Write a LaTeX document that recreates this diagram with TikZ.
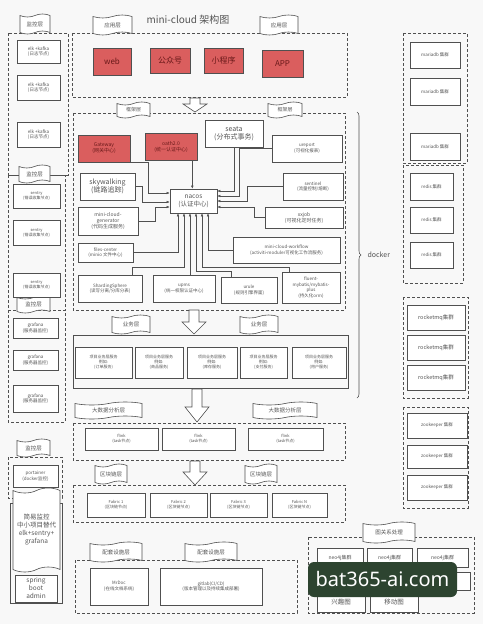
\documentclass[tikz,border=0pt]{standalone}
\usepackage{fontspec}
\setmainfont{Noto Sans CJK SC}
\newfontfamily\wmfont{Noto Sans}
\usetikzlibrary{shapes.symbols,arrows.meta,calc,decorations.pathreplacing}
\definecolor{linec}{RGB}{80,80,80}
\definecolor{textc}{RGB}{85,85,85}
\definecolor{redc}{RGB}{218,94,94}
\definecolor{redtext}{RGB}{105,25,25}
\definecolor{bgc}{RGB}{248,248,248}
\definecolor{wmc}{RGB}{45,68,48}
\tikzset{
 box/.style={draw=linec,line width=0.6pt,fill=white,inner sep=0pt,align=center,text=textc,font=\fontsize{4.5}{5.5}\selectfont},
 redbox/.style={fill=redc,text=redtext,font=\fontsize{8}{9}\selectfont},
 flag/.style={tape,draw=linec,fill=white,line width=0.6pt,tape bend top=in and out,tape bend bottom=in and out,tape bend height=3pt,inner sep=0pt,align=center,text=textc,font=\fontsize{5.5}{6.5}\selectfont},
 dbox/.style={draw=linec,line width=0.8pt,dash pattern=on 3pt off 2pt},
 sbox/.style={draw=linec,line width=0.6pt},
 conn/.style={draw=linec,line width=0.5pt,-{Latex[length=3pt,width=2.6pt]}},
 fa/.style={font=\fontsize{4}{5}\selectfont},
 fb/.style={font=\fontsize{4.5}{5.5}\selectfont},
 fc/.style={font=\fontsize{5}{6}\selectfont},
 fd/.style={font=\fontsize{5.5}{6.5}\selectfont},
 fe/.style={font=\fontsize{6.5}{8}\selectfont},
 ff/.style={font=\fontsize{7}{8.5}\selectfont},
 fg/.style={font=\fontsize{8}{9}\selectfont},
 barrow/.style={draw=linec,fill=white,line width=0.6pt},
}
\newcommand\mybox[7][]{\node[box,#1,minimum width={(#5)-(#3)},minimum height={(#6)-(#4)}] (#2) at ({((#3)+(#5))/2},{((#4)+(#6))/2}) {#7};}
\newcommand\myflag[7][]{\node[flag,#1,minimum width={(#5)-(#3)},minimum height={(#6)-(#4)}] (#2) at ({((#3)+(#5))/2},{((#4)+(#6))/2}) {#7};}
\newcommand\blockarr[4]{\draw[barrow] (#1-5,#2) -- (#1+5,#2) -- (#1+5,#3) -- (#1+12,#3) -- (#1,#4) -- (#1-12,#3) -- (#1-5,#3) -- cycle;}
\begin{document}
\begin{tikzpicture}[x=1pt,y=-1pt]
\useasboundingbox (0,0) rectangle (483,624);
\fill[bgc] (0,0) rectangle (483,624);

% ---------- left column ----------
\draw[dbox] (8,33) rectangle (68,175);
\draw[dbox] (8,175) rectangle (65,310);
\draw[dbox] (8,310) rectangle (65,422);
\draw[dbox] (8,457) rectangle (62,498);
\myflag{mon1}{20}{14}{50}{34}{监控层}
\myflag{mon2}{19}{165}{50}{183}{监控层}
\myflag{mon3}{17}{296}{50}{313}{监控层}
\myflag{mon4}{17}{439}{50}{457}{监控层}
\mybox[fb]{elk1}{17}{40}{60}{63}{elk +kafka\\(日志节点)}
\mybox[fb]{elk2}{17}{75}{60}{100}{elk +kafka\\(日志节点)}
\mybox[fb]{elk3}{17}{122}{60}{147}{elk +kafka\\(日志节点)}
\mybox[fa]{sen1}{13}{184}{60}{208}{sentry\\(错误收集节点)}
\mybox[fa]{sen2}{13}{220}{60}{245}{sentry\\(错误收集节点)}
\mybox[fa]{sen3}{13}{273}{60}{297}{sentry\\(错误收集节点)}
\mybox[fb]{gra1}{13}{318}{58}{338}{grafana\\(服务器监控)}
\mybox[fb]{gra2}{13}{350}{58}{370}{grafana\\(服务器监控)}
\mybox[fb]{gra3}{13}{385}{58}{412}{grafana\\(服务器监控)}
\mybox[fb]{port}{13}{465}{58}{487}{portainer\\(docker监控)}
\draw[sbox] (10,503) rectangle (62,603);
\myflag[fe,tape bend height=5pt]{simple}{13}{488}{60}{572}{简易监控\\中小项目替代\\elk+sentry+\\grafana}
\mybox[fe]{spring}{15}{575}{57}{602}{spring\\boot\\admin}

% ---------- application layer ----------
\node[text=textc,font=\fontsize{10}{12}\selectfont] (title) at (188,20) {mini-cloud 架构图};
\draw[dbox] (72,33) rectangle (347,97);
\myflag{app1}{93}{15}{132}{35}{应用层}
\myflag{app2}{260}{15}{298}{35}{应用层}
\mybox[redbox]{web}{93}{48}{131}{75}{web}
\mybox[redbox]{gzh}{150}{48}{190}{73}{公众号}
\mybox[redbox]{xcx}{204}{48}{243}{73}{小程序}
\mybox[redbox]{appn}{262}{50}{303}{77}{APP}
\blockarr{195}{98}{104}{112}

% ---------- framework layer ----------
\draw[dbox] (73,113) rectangle (345,310);
\myflag[fc]{fw1}{117}{102}{150}{118}{框架层}
\myflag[fc]{fw2}{268}{102}{302}{118}{框架层}
\mybox[redbox,fc]{gw}{78}{135}{130}{162}{Gateway\\(网关中心)}
\mybox[redbox,fc]{oath}{145}{133}{197}{160}{oath2.0\\(统一认证中心)}
\mybox[ff]{seata}{205}{120}{263}{147}{seata\\(分布式事务)}
\mybox[fb]{ure}{272}{135}{342}{162}{ureport\\(可视化报表)}
\mybox[ff]{sky}{80}{173}{135}{200}{skywalking\\(链路追踪)}
\mybox[fb]{senti}{283}{173}{343}{200}{sentinel\\(流量控制/熔断)}
\mybox[fe]{nacos}{170}{189}{217}{213}{nacos\\(认证中心)}
\mybox[fc]{gen}{78}{207}{138}{235}{mini-cloud-\\generator\\(代码生成服务)}
\mybox[fc]{xx}{265}{207}{343}{228}{xxjob\\(可视化定时任务)}
\mybox[fb]{files}{78}{243}{133}{262}{files-center\\(minio 文件中心)}
\mybox[fb]{wf}{233}{237}{340}{263}{mini-cloud-workflow\\(activiti-moduler可视化工作流服务)}
\mybox[fb]{shard}{78}{275}{142}{302}{ShardingSphere\\(读写分离/分库分表)}
\mybox[fb]{upms}{153}{275}{215}{302}{upms\\(统一权限认证中心)}
\mybox[fb]{urule}{221}{277}{277}{303}{urule\\(规则引擎界面)}
\mybox[fb]{fluent}{282}{272}{340}{303}{fluent-\\mybatis/mybatis-\\plus\\(持久化orm)}

% connectors into nacos
\draw[conn] (gw.south east) -- ++(18,0) |- ($(nacos.west)+(0,-8)$);
\draw[conn] (sky.east) -- ++(7,0) |- ($(nacos.west)+(0,1)$);
\draw[conn] (gen.east) -- ++(17,0) |- ($(nacos.west)+(0,6)$);
\coordinate (oa) at ($(oath.south east)+(-5,0)$);
\draw[conn] (oa) -- (oa |- nacos.north);
\draw[conn] (seata.south) |- ($(nacos.east)+(0,-10)$);
\draw[conn] (ure.west) -- ++(-32,0) |- ($(nacos.east)+(0,-5)$);
\draw[conn] (senti.west) -- ++(-35,0) |- (nacos.east);
\draw[conn] (xx.west) -- ++(-10,0) |- ($(nacos.east)+(0,6)$);
\draw[conn] (files.east) -| ($(nacos.south)+(-15.5,0)$);
\coordinate (sh) at ($(shard.north east)+(-10,0)$);
\draw[conn] (sh) -- ++(0,-7) -| ($(nacos.south)+(-9.5,0)$);
\coordinate (up) at ($(upms.north)+(6,0)$);
\draw[conn] (up) -- (up |- nacos.south);
\coordinate (ur) at ($(urule.north west)+(11,0)$);
\draw[conn] (ur) -- ++(0,-5) -| ($(nacos.south)+(2.5,0)$);
\coordinate (fl) at ($(fluent.north west)+(8,0)$);
\draw[conn] (fl) -- ++(0,-4) -| ($(nacos.south)+(8.5,0)$);
\draw[conn] (wf.west) -| ($(nacos.south)+(14.5,0)$);

% docker brace
\draw[draw=linec,line width=0.6pt,decorate,decoration={brace,amplitude=4pt}] (357,112) -- (357,398);
\node[text=textc,font=\fontsize{7}{8}\selectfont,anchor=west] (docker) at (364,255) {docker};

% ---------- business layer ----------
\blockarr{194}{310}{322}{334}
\draw[sbox] (73,335) rectangle (348,388);
\myflag{biz1}{112}{315}{150}{334}{业务层}
\myflag{biz2}{240}{315}{278}{334}{业务层}
\mybox[fa]{b1}{75}{347}{132}{378}{项目业务层服务\\例如:\\(订单服务)}
\mybox[fa]{b2}{135}{347}{183}{378}{项目业务层服务\\例如:\\(商品服务)}
\mybox[fa]{b3}{187}{347}{237}{378}{项目业务层服务\\例如:\\(库存服务)}
\mybox[fa]{b4}{240}{347}{287}{378}{项目业务层服务\\例如:\\(支付服务)}
\mybox[fa]{b5}{292}{347}{346}{378}{项目业务层服务\\例如:\\(用户服务)}

% ---------- big data ----------
\blockarr{197}{389}{407}{422}
\draw[dbox] (73,423) rectangle (345,460);
\myflag{bd1}{75}{402}{142}{419}{大数据分析层}
\myflag{bd2}{253}{402}{317}{419}{大数据分析层}
\mybox[fa]{fk1}{85}{428}{158}{450}{flink\\(task节点)}
\mybox[fa]{fk2}{162}{428}{235}{450}{flink\\(task节点)}
\mybox[fa]{fk3}{248}{428}{323}{450}{flink\\(task节点)}

% ---------- blockchain ----------
\blockarr{195}{461}{472}{485}
\draw[dbox] (73,485) rectangle (345,522);
\myflag{bc1}{95}{464}{127}{484}{区块链层}
\myflag{bc2}{245}{464}{277}{484}{区块链层}
\mybox[fa]{fa1}{87}{493}{145}{517}{Fabric 1\\(区块链节点)}
\mybox[fa]{fa2}{150}{493}{207}{517}{Fabric 2\\(区块链节点)}
\mybox[fa]{fa3}{210}{493}{267}{517}{Fabric 3\\(区块链节点)}
\mybox[fa]{fa4}{272}{493}{327}{517}{Fabric N\\(区块链节点)}

% ---------- support ----------
\draw[dbox] (75,560) rectangle (297,613);
\myflag{pt1}{90}{542}{142}{562}{配套设施层}
\myflag{pt2}{185}{542}{237}{562}{配套设施层}
\mybox[fb]{mrdoc}{90}{568}{148}{605}{MrDoc\\(在线文档系统)}
\mybox[fb]{gitlab}{160}{568}{262}{605}{gitlab(CI/CD)\\(版本管理以及持续集成部署)}

% ---------- graph ----------
\draw[dbox] (308,537) rectangle (474,613);
\myflag[fd]{gr}{363}{522}{415}{543}{图关系处理}
\mybox[fc]{neo1}{317}{548}{363}{567}{neo4j集群}
\mybox[fc]{neo2}{367}{548}{412}{567}{neo4j集群}
\mybox[fc]{neo3}{417}{548}{468}{567}{neo4j集群}
\mybox[fc]{g21}{317}{572}{365}{590}{}
\mybox[fc]{g22}{370}{572}{418}{590}{}
\mybox[fc]{g23}{422}{572}{470}{590}{}
\mybox[fe]{xqt}{317}{593}{365}{612}{兴趣图}
\mybox[fe]{ydt}{370}{593}{418}{612}{移动图}
\node[fill=wmc,rounded corners=6pt,minimum width=149pt,minimum height=35pt,inner sep=0pt,text=white,font=\wmfont\fontsize{20}{22}\selectfont] (wm) at (382.5,579.5) {bat365-ai.com};

% ---------- right column ----------
\draw[dbox] (403,33) rectangle (467,163);
\mybox[fb]{ma1}{410}{42}{460}{68}{mariadb 集群}
\mybox[fb]{ma2}{410}{78}{460}{105}{mariadb 集群}
\mybox[fb]{ma3}{410}{133}{460}{160}{mariadb 集群}
\draw[dbox] (403,165) rectangle (463,283);
\mybox[fb]{re1}{410}{173}{453}{200}{redis 集群}
\mybox[fb]{re2}{410}{207}{453}{233}{redis 集群}
\mybox[fb]{re3}{410}{242}{453}{268}{redis 集群}
\draw[dbox] (403,297) rectangle (468,398);
\mybox[fd]{rm1}{407}{305}{465}{330}{rocketmq集群}
\mybox[fd]{rm2}{407}{335}{465}{360}{rocketmq集群}
\mybox[fd]{rm3}{407}{365}{465}{390}{rocketmq集群}
\draw[dbox] (403,407) rectangle (468,508);
\mybox[fb]{zk1}{407}{413}{467}{438}{zookeeper 集群}
\mybox[fb]{zk2}{407}{445}{467}{468}{zookeeper 集群}
\mybox[fb]{zk3}{407}{475}{467}{500}{zookeeper 集群}
\end{tikzpicture}
\end{document}
